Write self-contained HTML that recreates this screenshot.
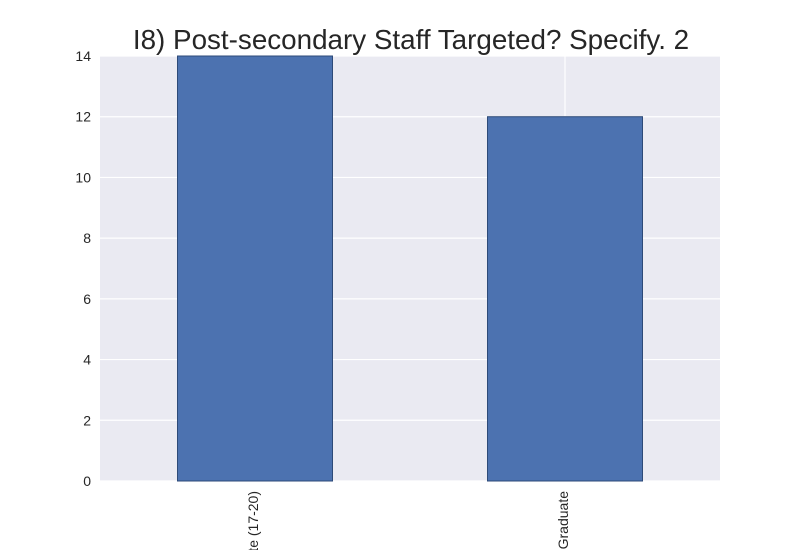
<!DOCTYPE html>
<html><head><meta charset="utf-8"><style>
html,body{margin:0;padding:0;background:#fff;width:800px;height:550px;overflow:hidden}
#wrap{width:800px;height:550px;overflow:hidden;position:relative}
svg{display:block}
svg text{font-family:"Liberation Sans",sans-serif}
</style></head><body>
<div id="wrap">
<svg id="chart" width="800" height="550" xmlns="http://www.w3.org/2000/svg" overflow="hidden">
<defs><clipPath id="frame"><rect x="0" y="0" width="800" height="550"/></clipPath></defs>
<text x="411" y="49" text-anchor="middle" font-size="27.8" fill="#262626">I8) Post-secondary Staff Targeted? Specify. 2</text>
<rect x="100" y="56" width="620" height="425" fill="#eaeaf2"/>
<g id="grid"></g><g id="bars"></g><g id="ticks"></g><g id="xticks" clip-path="url(#frame)"></g>
</svg>
</div>
<script>
const categories = ["Undergraduate (17-20)", "Graduate"];
const values = [14, 12];
const yTicks = [0, 2, 4, 6, 8, 10, 12, 14];
const ns = "http://www.w3.org/2000/svg";
const X0 = 100, X1 = 720, Y0 = 481, Y1 = 56, YMAX = 14;
const y = v => Y0 - (v / YMAX) * (Y0 - Y1);
const slot = (X1 - X0) / categories.length;
const xc = i => X0 + slot * (i + 0.5);
function mk(tag, attrs, parent) { const e = document.createElementNS(ns, tag); for (const k in attrs) e.setAttribute(k, attrs[k]); parent.appendChild(e); return e; }
const grid = document.getElementById("grid"), bars = document.getElementById("bars"), ticks = document.getElementById("ticks"), xticks = document.getElementById("xticks");
yTicks.forEach(t => {
  const l = mk("line", {x1: X0, x2: X1, y1: y(t), y2: y(t), stroke: "#fff", "stroke-width": 1.2}, grid);
  
  
  const tx = mk("text", {x: 91, y: y(t) + 5, "text-anchor": "end", "font-size": 14, fill: "#262626"}, ticks);
  tx.textContent = t;
  
  
});
categories.forEach((c, i) => {
  const g = mk("line", {x1: xc(i), x2: xc(i), y1: Y1, y2: Y0, stroke: "#fff", "stroke-width": 1.2}, grid);
  
  
  const w = slot * 0.5;
  const r = mk("rect", {x: xc(i) - w / 2, y: y(values[i]), width: w, height: Y0 - y(values[i]), fill: "#4c72b0", stroke: "#2d4a78", "stroke-width": 1}, bars);
  
  
  const tx = mk("text", {x: 0, y: 0, "text-anchor": "end", "font-size": 14, fill: "#262626", transform: `translate(${xc(i) + 3},${Y0 + 10}) rotate(-90)`}, xticks);
  tx.textContent = c;
  
  
});
</script>
</body></html>
